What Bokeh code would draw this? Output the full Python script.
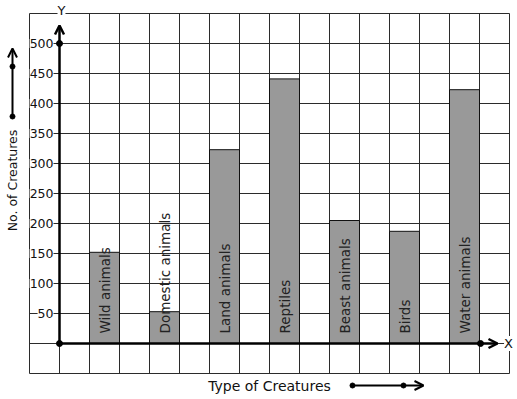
import numpy as np
from bokeh.plotting import figure
from bokeh.models import Range1d, Arrow, OpenHead
from bokeh.core.properties import value
from bokeh.embed import file_html
from bokeh.resources import INLINE

# ---- data ----
categories = ["Wild animals", "Domestic animals", "Land animals", "Reptiles",
              "Beast animals", "Birds", "Water animals"]
counts = [152, 53, 323, 441, 205, 187, 423]
y_ticks = [50, 100, 150, 200, 250, 300, 350, 400, 450, 500]
y_tick_labels = ["50", "100", "150", "200", "250", "300", "350", "400", "450", "500"]
x_title = "Type of Creatures"
y_title = "No. of Creatures"

# ---- layout constants ----
W, H = 517, 399
X0f, CW = 59.0, 30.0          # figure px of y-axis, px per x unit
Y0f, S = 343.0, 0.6           # figure px of x-axis, px per value unit

def rx(px):  # reference pixel -> data x
    return (px - 59) / 30.0

def ry(py):  # reference pixel -> data value
    return (343 - py) / 0.6

FONT = value("DejaVu Sans")

p = figure(width=W, height=H, output_backend="svg", toolbar_location=None,
           x_range=Range1d(-X0f / CW, (W - X0f) / CW),
           y_range=Range1d((Y0f - H) / S, Y0f / S),
           x_axis_type=None, y_axis_type=None, min_border=0,
           outline_line_color=None, background_fill_color="white")
p.grid.visible = False

grid_col = "#2b2b2b"
# vertical grid lines
gx = [g for g in range(-1, 16) if g != 0]
p.segment(x0=gx, y0=[-50] * len(gx), x1=gx, y1=[550] * len(gx), line_color=grid_col, line_width=1)
p.segment(x0=[0], y0=[-50], x1=[0], y1=[0], line_color=grid_col, line_width=1)
# horizontal grid lines
gy = list(range(-50, 551, 50))
p.segment(x0=[-1] * len(gy), y0=gy, x1=[15] * len(gy), y1=gy, line_color=grid_col, line_width=1)

# bars
bx = [1.5 + 2 * i for i in range(len(categories))]
p.vbar(x=bx, top=counts, bottom=0, width=1, fill_color="#999999", line_color="#111111", line_width=1)

# axes with arrows
p.add_layout(Arrow(end=OpenHead(size=9, line_width=2.5, line_color="black"),
                   x_start=0, y_start=0, x_end=0, y_end=ry(25), line_width=2.5, line_color="black"))
p.add_layout(Arrow(end=OpenHead(size=9, line_width=2.5, line_color="black"),
                   x_start=0, y_start=0, x_end=rx(497), y_end=0, line_width=2.5, line_color="black"))
p.scatter(x=[0, 0, rx(480)], y=[0, 500, 0], size=6, color="black")

# tick labels
p.text(x=[rx(53)] * len(y_ticks), y=y_ticks, text=y_tick_labels, text_font=FONT,
       text_font_size="12.5px", text_align="right", text_baseline="middle",
       text_color="#111111", background_fill_color="white")

# bar labels
p.text(x=bx, y=[ry(333)] * len(bx), text=categories, angle=np.pi / 2, text_font=FONT,
       text_font_size="13.5px", text_align="left", text_baseline="middle", text_color="#222222")

# axis letters
p.text(x=[rx(61)], y=[ry(10)], text=["Y"], text_font=FONT, text_font_size="13px",
       text_align="center", text_baseline="middle", text_color="#111111",
       background_fill_color="white")
p.text(x=[rx(508)], y=[0], text=["X"], text_font=FONT, text_font_size="13px",
       text_align="center", text_baseline="middle", text_color="#111111",
       background_fill_color="white")

# titles
p.text(x=[rx(12)], y=[ry(180)], text=[y_title], angle=np.pi / 2, text_font=FONT,
       text_font_size="12.5px", text_align="center", text_baseline="middle", text_color="#111111")
p.text(x=[rx(269)], y=[ry(385)], text=[x_title], text_font=FONT,
       text_font_size="14px", text_align="center", text_baseline="middle", text_color="#111111")

# decorative direction arrows
p.add_layout(Arrow(end=OpenHead(size=9, line_width=2, line_color="black"),
                   x_start=rx(12), y_start=ry(116), x_end=rx(12), y_end=ry(48),
                   line_width=2, line_color="black"))
p.add_layout(Arrow(end=OpenHead(size=9, line_width=2, line_color="black"),
                   x_start=rx(352), y_start=ry(385), x_end=rx(423), y_end=ry(385),
                   line_width=2, line_color="black"))
p.scatter(x=[rx(12), rx(12), rx(352), rx(403)], y=[ry(116), ry(66), ry(385), ry(385)],
          size=5, color="black")

open("out.html", "w").write(file_html(p, INLINE))
